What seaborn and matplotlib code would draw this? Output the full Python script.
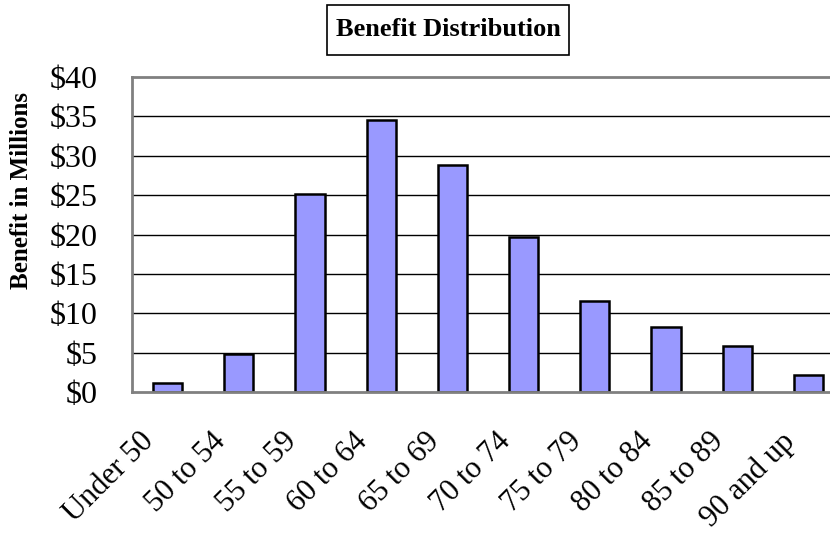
import matplotlib
matplotlib.use("Agg")
import matplotlib.pyplot as plt
import matplotlib.transforms as mtransforms
from matplotlib.patches import Rectangle
import seaborn as sns
import pandas as pd

age_groups = ["Under 50", "50 to 54", "55 to 59", "60 to 64", "65 to 69",
              "70 to 74", "75 to 79", "80 to 84", "85 to 89", "90 and up"]
benefit_millions = [1.1, 4.8, 25.1, 34.5, 28.8, 19.7, 11.6, 8.2, 5.8, 2.2]
y_ticks = [0, 5, 10, 15, 20, 25, 30, 35, 40]
y_tick_labels = ["$0", "$5", "$10", "$15", "$20", "$25", "$30", "$35", "$40"]

sns.set_style("white")
plt.rcParams["font.family"] = ["Liberation Serif", "DejaVu Serif"]
plt.rcParams["text.color"] = "black"
plt.rcParams["xtick.color"] = "black"
plt.rcParams["ytick.color"] = "black"

df = pd.DataFrame({"age": age_groups, "benefit": benefit_millions})

W, H = 830, 533
fig = plt.figure(figsize=(W / 100, H / 100), dpi=100)
# plot area runs past the right edge of the canvas
ax = fig.add_axes([132 / W, (H - 392) / H, 712 / W, 315 / H])

sns.barplot(data=df, x="age", y="benefit", ax=ax, color="#9999FF",
            saturation=1, width=0.41, edgecolor="black", linewidth=1.8)

ax.set_ylim(0, 40)
ax.set_xlim(-0.5, len(age_groups) - 0.5)
ax.set_yticks(y_ticks)
ax.set_yticklabels(y_tick_labels, fontsize=23, color="black")
ax.tick_params(axis="y", length=0, pad=25)
ax.tick_params(axis="x", length=0, pad=10)
ax.set_xticks(range(len(age_groups)))
ax.set_xticklabels(age_groups, rotation=45, ha="right",
                   rotation_mode="anchor", fontsize=22, color="black")
shift = mtransforms.ScaledTranslation(-28 / 100, -21 / 100, fig.dpi_scale_trans)
for lbl in ax.get_xticklabels():
    lbl.set_transform(lbl.get_transform() + shift)

for v in y_ticks[1:-1]:
    ax.axhline(v, color="black", linewidth=1.0, zorder=0)

for side in ["left", "top", "bottom"]:
    ax.spines[side].set_color("#808080")
    ax.spines[side].set_linewidth(2)
ax.spines["right"].set_visible(False)

ax.set_xlabel("")
ax.set_ylabel("")
fig.text(22 / W, 1 - 190 / H, "Benefit in Millions", rotation=90,
         ha="center", va="center", fontsize=18, fontweight="bold")

# boxed title
fig.patches.append(Rectangle((327 / W, 1 - 55 / H), 242 / W, 50 / H,
                             transform=fig.transFigure, facecolor="white",
                             edgecolor="black", linewidth=1.2))
fig.text(448 / W, 1 - 30 / H, "Benefit Distribution", ha="center",
         va="center", fontsize=19, fontweight="bold")

fig.savefig("out.png", dpi=100)
